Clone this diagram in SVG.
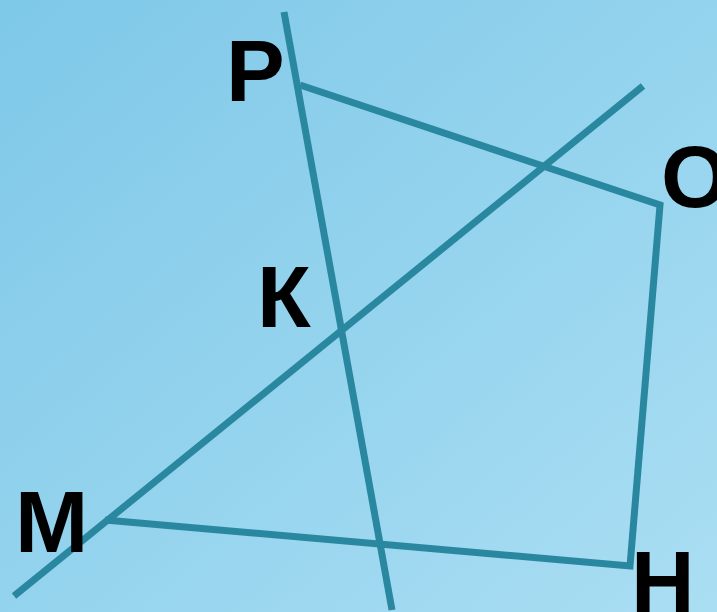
<svg xmlns="http://www.w3.org/2000/svg" width="717" height="612" viewBox="0 0 717 612">
<defs>
<linearGradient id="bg" x1="0" y1="0" x2="1" y2="1">
<stop offset="0" stop-color="#7ec8e8"/>
<stop offset="1" stop-color="#aadef3"/>
</linearGradient>
</defs>
<style>
.ln{stroke:#2a87a0;stroke-width:7;fill:none;stroke-linecap:butt;stroke-linejoin:miter}
.lb{font-family:"Liberation Sans",Arial,sans-serif;font-weight:bold;font-size:88px;fill:#000}
</style>
<rect width="717" height="612" fill="url(#bg)"/>
<g id="connectors">
<line class="ln" x1="284" y1="12" x2="392" y2="610"/>
<line class="ln" x1="14" y1="596" x2="643" y2="86"/>
<polyline class="ln" points="300,85 660,205 630,566 105,520"/>
</g>
<g id="P"><text class="lb" x="226" y="101">Р</text></g>
<g id="K"><text class="lb" x="257" y="327">К</text></g>
<g id="M"><text class="lb" x="15" y="552">М</text></g>
<g id="O"><text class="lb" x="661" y="207">О</text></g>
<g id="H"><text class="lb" x="631" y="612">Н</text></g>
</svg>
